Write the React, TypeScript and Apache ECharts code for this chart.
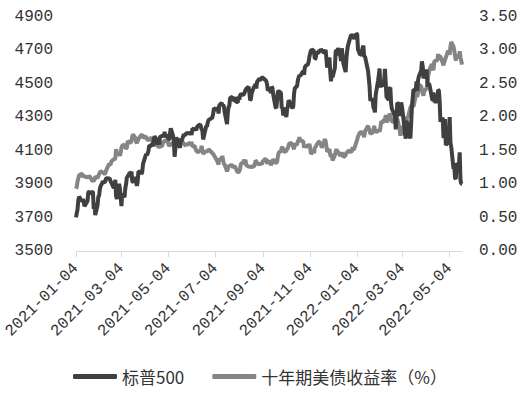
import React, { useEffect, useRef } from "react";
import * as echarts from "echarts";

// Trading months and the trading days in each
const months = [
  "2021-01", "2021-02", "2021-03", "2021-04", "2021-05", "2021-06",
  "2021-07", "2021-08", "2021-09", "2021-10", "2021-11", "2021-12",
  "2022-01", "2022-02", "2022-03", "2022-04", "2022-05",
];
const tradingDays: number[][] = [
  [4, 5, 6, 7, 8, 11, 12, 13, 14, 15, 19, 20, 21, 22, 25, 26, 27, 28, 29],
  [1, 2, 3, 4, 5, 8, 9, 10, 11, 12, 16, 17, 18, 19, 22, 23, 24, 25, 26],
  [1, 2, 3, 4, 5, 8, 9, 10, 11, 12, 15, 16, 17, 18, 19, 22, 23, 24, 25, 26, 29, 30, 31],
  [1, 5, 6, 7, 8, 9, 12, 13, 14, 15, 16, 19, 20, 21, 22, 23, 26, 27, 28, 29, 30],
  [3, 4, 5, 6, 7, 10, 11, 12, 13, 14, 17, 18, 19, 20, 21, 24, 25, 26, 27, 28],
  [1, 2, 3, 4, 7, 8, 9, 10, 11, 14, 15, 16, 17, 18, 21, 22, 23, 24, 25, 28, 29, 30],
  [1, 2, 6, 7, 8, 9, 12, 13, 14, 15, 16, 19, 20, 21, 22, 23, 26, 27, 28, 29, 30],
  [2, 3, 4, 5, 6, 9, 10, 11, 12, 13, 16, 17, 18, 19, 20, 23, 24, 25, 26, 27, 30, 31],
  [1, 2, 3, 7, 8, 9, 10, 13, 14, 15, 16, 17, 20, 21, 22, 23, 24, 27, 28, 29, 30],
  [1, 4, 5, 6, 7, 8, 11, 12, 13, 14, 15, 18, 19, 20, 21, 22, 25, 26, 27, 28, 29],
  [1, 2, 3, 4, 5, 8, 9, 10, 11, 12, 15, 16, 17, 18, 19, 22, 23, 24, 26, 29, 30],
  [1, 2, 3, 6, 7, 8, 9, 10, 13, 14, 15, 16, 17, 20, 21, 22, 23, 27, 28, 29, 30, 31],
  [3, 4, 5, 6, 7, 10, 11, 12, 13, 14, 18, 19, 20, 21, 24, 25, 26, 27, 28, 31],
  [1, 2, 3, 4, 7, 8, 9, 10, 11, 14, 15, 16, 17, 18, 22, 23, 24, 25, 28],
  [1, 2, 3, 4, 7, 8, 9, 10, 11, 14, 15, 16, 17, 18, 21, 22, 23, 24, 25, 28, 29, 30, 31],
  [1, 4, 5, 6, 7, 8, 11, 12, 13, 14, 18, 19, 20, 21, 22, 25, 26, 27, 28, 29],
  [2, 3, 4, 5, 6, 9, 10, 11, 12, 13, 16, 17, 18, 19, 20],
];

// 标普500 daily close, by month
const spx500: number[][] = [
  [3701, 3727, 3748, 3804, 3825, 3800, 3801, 3810, 3796, 3768, 3799, 3852, 3853, 3841, 3855, 3850, 3751, 3787, 3714],
  [3774, 3826, 3830, 3872, 3887, 3916, 3911, 3910, 3916, 3935, 3933, 3931, 3914, 3907, 3877, 3881, 3925, 3829, 3811],
  [3902, 3870, 3820, 3768, 3842, 3821, 3875, 3899, 3939, 3943, 3969, 3963, 3974, 3915, 3913, 3941, 3911, 3889, 3910, 3975, 3971, 3959, 3973],
  [4020, 4078, 4074, 4080, 4097, 4129, 4128, 4142, 4125, 4170, 4185, 4163, 4135, 4173, 4135, 4180, 4188, 4187, 4183, 4211, 4181],
  [4193, 4165, 4168, 4202, 4233, 4188, 4152, 4063, 4113, 4174, 4163, 4128, 4116, 4159, 4156, 4197, 4188, 4196, 4201, 4204],
  [4202, 4208, 4193, 4230, 4227, 4227, 4220, 4239, 4247, 4255, 4247, 4224, 4222, 4166, 4225, 4246, 4242, 4266, 4281, 4291, 4292, 4298],
  [4320, 4352, 4344, 4358, 4321, 4370, 4385, 4369, 4374, 4360, 4327, 4258, 4323, 4359, 4367, 4412, 4422, 4401, 4401, 4419, 4395],
  [4387, 4423, 4403, 4429, 4437, 4432, 4437, 4448, 4461, 4468, 4480, 4448, 4400, 4406, 4442, 4480, 4486, 4496, 4470, 4509, 4529, 4523],
  [4524, 4537, 4535, 4520, 4514, 4493, 4459, 4469, 4443, 4481, 4474, 4433, 4358, 4354, 4396, 4449, 4455, 4443, 4353, 4359, 4308],
  [4357, 4300, 4346, 4364, 4400, 4391, 4361, 4351, 4364, 4438, 4471, 4486, 4520, 4536, 4550, 4545, 4566, 4575, 4552, 4596, 4605],
  [4614, 4631, 4661, 4680, 4698, 4702, 4685, 4647, 4649, 4683, 4683, 4701, 4689, 4705, 4698, 4683, 4691, 4701, 4595, 4655, 4567],
  [4513, 4577, 4538, 4592, 4687, 4701, 4667, 4712, 4669, 4634, 4710, 4669, 4621, 4568, 4649, 4697, 4726, 4791, 4786, 4793, 4779, 4766],
  [4797, 4794, 4701, 4696, 4677, 4670, 4713, 4726, 4659, 4663, 4577, 4533, 4483, 4398, 4410, 4356, 4350, 4327, 4432, 4516],
  [4547, 4589, 4477, 4501, 4484, 4522, 4587, 4504, 4419, 4402, 4471, 4475, 4380, 4349, 4305, 4226, 4289, 4385, 4374],
  [4306, 4387, 4363, 4329, 4201, 4171, 4278, 4260, 4204, 4173, 4262, 4358, 4412, 4463, 4461, 4512, 4456, 4520, 4543, 4576, 4632, 4602, 4530],
  [4546, 4583, 4525, 4481, 4500, 4488, 4413, 4397, 4447, 4393, 4392, 4462, 4459, 4394, 4272, 4296, 4175, 4184, 4288, 4132],
  [4155, 4175, 4300, 4147, 4123, 3991, 4001, 3935, 3930, 4024, 4008, 4089, 3924, 3901, 3901],
];

// 十年期美债收益率（%）, by month
const ust10y: number[][] = [
  [0.93, 0.96, 1.04, 1.08, 1.13, 1.15, 1.15, 1.10, 1.13, 1.11, 1.10, 1.10, 1.12, 1.11, 1.05, 1.05, 1.04, 1.07, 1.11],
  [1.09, 1.12, 1.15, 1.17, 1.19, 1.17, 1.16, 1.15, 1.16, 1.20, 1.30, 1.29, 1.29, 1.34, 1.37, 1.37, 1.38, 1.52, 1.46],
  [1.45, 1.42, 1.47, 1.54, 1.57, 1.59, 1.55, 1.53, 1.54, 1.64, 1.62, 1.62, 1.64, 1.71, 1.74, 1.69, 1.63, 1.61, 1.64, 1.67, 1.72, 1.73, 1.74],
  [1.69, 1.71, 1.66, 1.68, 1.64, 1.67, 1.69, 1.64, 1.64, 1.57, 1.59, 1.61, 1.56, 1.56, 1.55, 1.56, 1.57, 1.62, 1.63, 1.65, 1.65],
  [1.63, 1.59, 1.57, 1.58, 1.60, 1.60, 1.63, 1.69, 1.66, 1.63, 1.64, 1.64, 1.68, 1.63, 1.62, 1.61, 1.58, 1.58, 1.61, 1.58],
  [1.62, 1.59, 1.63, 1.56, 1.57, 1.53, 1.50, 1.49, 1.47, 1.50, 1.50, 1.57, 1.51, 1.45, 1.49, 1.47, 1.50, 1.49, 1.52, 1.48, 1.48, 1.45],
  [1.45, 1.43, 1.35, 1.32, 1.29, 1.37, 1.37, 1.42, 1.35, 1.30, 1.29, 1.19, 1.22, 1.28, 1.26, 1.28, 1.28, 1.24, 1.26, 1.27, 1.24],
  [1.17, 1.18, 1.19, 1.23, 1.30, 1.32, 1.36, 1.34, 1.36, 1.28, 1.26, 1.26, 1.27, 1.24, 1.26, 1.26, 1.29, 1.35, 1.34, 1.31, 1.29, 1.31],
  [1.30, 1.29, 1.33, 1.38, 1.35, 1.30, 1.34, 1.33, 1.28, 1.31, 1.34, 1.37, 1.31, 1.32, 1.33, 1.41, 1.47, 1.49, 1.54, 1.55, 1.52],
  [1.48, 1.49, 1.53, 1.53, 1.58, 1.61, 1.61, 1.58, 1.55, 1.52, 1.59, 1.59, 1.64, 1.65, 1.70, 1.65, 1.64, 1.63, 1.54, 1.58, 1.55],
  [1.58, 1.55, 1.60, 1.53, 1.45, 1.49, 1.46, 1.55, 1.55, 1.58, 1.63, 1.63, 1.60, 1.59, 1.54, 1.63, 1.67, 1.64, 1.48, 1.52, 1.43],
  [1.41, 1.45, 1.35, 1.43, 1.48, 1.52, 1.49, 1.48, 1.42, 1.44, 1.47, 1.44, 1.40, 1.43, 1.48, 1.46, 1.50, 1.48, 1.49, 1.55, 1.52, 1.52],
  [1.63, 1.66, 1.71, 1.73, 1.76, 1.78, 1.75, 1.74, 1.70, 1.78, 1.87, 1.83, 1.81, 1.75, 1.77, 1.78, 1.87, 1.80, 1.78, 1.79],
  [1.81, 1.78, 1.83, 1.93, 1.92, 1.97, 1.94, 2.03, 1.92, 1.99, 2.05, 2.03, 1.97, 1.93, 1.94, 1.99, 1.96, 1.97, 1.83],
  [1.72, 1.86, 1.84, 1.74, 1.78, 1.86, 1.95, 2.01, 2.00, 2.14, 2.16, 2.19, 2.20, 2.15, 2.32, 2.38, 2.30, 2.37, 2.48, 2.46, 2.40, 2.35, 2.32],
  [2.39, 2.42, 2.54, 2.61, 2.66, 2.72, 2.79, 2.72, 2.70, 2.83, 2.85, 2.94, 2.85, 2.91, 2.90, 2.81, 2.77, 2.82, 2.85, 2.89],
  [2.99, 2.97, 2.93, 3.05, 3.12, 3.05, 2.99, 2.91, 2.84, 2.93, 2.88, 2.98, 2.89, 2.84, 2.78],
];

// X-axis tick labels
const tickDates = [
  "2021-01-04", "2021-03-04", "2021-05-04", "2021-07-04", "2021-09-04",
  "2021-11-04", "2022-01-04", "2022-03-04", "2022-05-04",
];
const xStart = "2021-01-04";
const xEnd = "2022-05-20";

const leftTicks = { min: 3500, max: 4900, interval: 200 };
const rightTicks = { min: 0, max: 3.5, interval: 0.5 };

const seriesNames = ["标普500", "十年期美债收益率（%）"];

const DAY = 86400000;
function toUTC(s: string): number {
  const [y, m, d] = s.split("-").map(Number);
  return Date.UTC(y, m - 1, d);
}
const origin = toUTC(xStart);
// calendar-day offset from the first date (the axis scale unit)
function dayIndex(s: string): number {
  return Math.round((toUTC(s) - origin) / DAY);
}
function pad(n: number) {
  return n < 10 ? "0" + n : String(n);
}
function fmtDay(v: number): string {
  const d = new Date(origin + Math.round(v) * DAY);
  return `${d.getUTCFullYear()}-${pad(d.getUTCMonth() + 1)}-${pad(d.getUTCDate())}`;
}

const dates: string[] = months.flatMap((m, i) => tradingDays[i].map((d) => `${m}-${pad(d)}`));
const spxFlat = spx500.flat();
const ustFlat = ust10y.flat();

export default function App() {
  const ref = useRef<HTMLDivElement>(null);
  useEffect(() => {
    if (!ref.current) return;
    const chart = echarts.init(ref.current, null, { renderer: "svg" });
    const tickVals = tickDates.map(dayIndex);
    const axisFont = "Liberation Mono";
    chart.setOption({
      animation: false,
      backgroundColor: "#ffffff",
      grid: { left: 76, right: 64, top: 16.5, bottom: 143, containLabel: false },
      legend: {
        left: 73,
        top: 368,
        padding: 0,
        itemGap: 28,
        itemWidth: 44,
        itemHeight: 5,
        icon: "roundRect",
        textStyle: { fontFamily: "Noto Sans CJK SC", fontSize: 17, color: "#333333" },
        data: seriesNames,
      },
      xAxis: {
        type: "value",
        min: 0,
        max: dayIndex(xEnd),
        axisLine: { show: true, lineStyle: { color: "#d9d9d9", width: 1 } },
        axisTick: { show: true, length: 6, lineStyle: { color: "#d9d9d9" }, customValues: tickVals },
        axisLabel: {
          customValues: tickVals,
          rotate: 45,
          margin: 15,
          hideOverlap: false,
          showMinLabel: true,
          showMaxLabel: true,
          formatter: (v: number) => fmtDay(v),
          fontFamily: axisFont,
          fontSize: 16,
          color: "#333333",
        },
        splitLine: { show: false },
      },
      yAxis: [
        {
          type: "value",
          position: "left",
          ...leftTicks,
          axisLine: { show: false },
          axisTick: { show: false },
          splitLine: { show: false },
          axisLabel: {
            margin: 23,
            fontFamily: axisFont,
            fontSize: 16,
            color: "#333333",
            formatter: (v: number) => String(v),
          },
        },
        {
          type: "value",
          position: "right",
          ...rightTicks,
          axisLine: { show: false },
          axisTick: { show: false },
          splitLine: { show: false },
          axisLabel: {
            margin: 17,
            fontFamily: axisFont,
            fontSize: 16,
            color: "#333333",
            formatter: (v: number) => v.toFixed(2),
          },
        },
      ],
      series: [
        {
          name: seriesNames[0],
          type: "line",
          yAxisIndex: 0,
          z: 3,
          showSymbol: false,
          symbol: "none",
          color: "#404040",
          lineStyle: { color: "#404040", width: 4 },
          data: dates.map((d, i) => [dayIndex(d), spxFlat[i]]),
        },
        {
          name: seriesNames[1],
          type: "line",
          yAxisIndex: 1,
          z: 2,
          showSymbol: false,
          symbol: "none",
          color: "#858585",
          lineStyle: { color: "#858585", width: 4 },
          data: dates.map((d, i) => [dayIndex(d), ustFlat[i]]),
        },
      ],
    });
    return () => chart.dispose();
  }, []);
  return (
    <div
      ref={ref}
      style={{ position: "fixed", left: 0, top: 0, width: 526, height: 394, background: "#fff" }}
    />
  );
}
